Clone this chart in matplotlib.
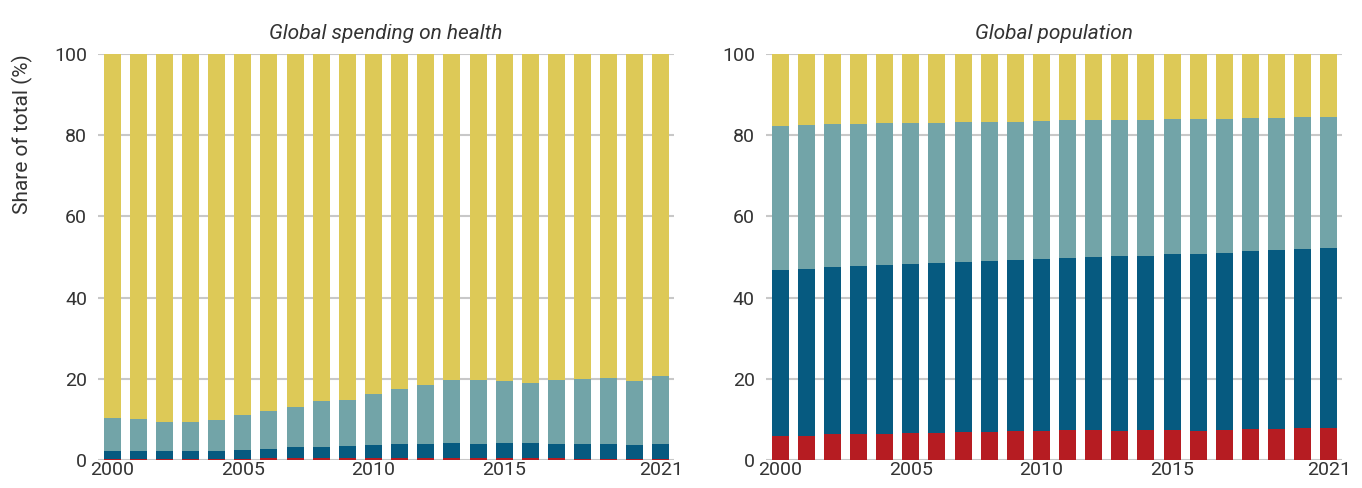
import numpy as np
import matplotlib
matplotlib.use("Agg")
import matplotlib.pyplot as plt

plt.rcParams['font.family'] = ['Roboto', 'DejaVu Sans']

years = list(range(2000, 2022))
tick_years = [2000, 2005, 2010, 2015, 2021]

# Global spending on health, share of total (%) per group
spend_red = [0.3, 0.3, 0.3, 0.3, 0.3, 0.3, 0.5, 0.5, 0.5, 0.5, 0.5,
             0.5, 0.5, 0.5, 0.5, 0.5, 0.5, 0.5, 0.3, 0.3, 0.3, 0.3]
spend_blue_top = [2.3, 2.3, 2.3, 2.3, 2.3, 2.5, 2.7, 3.2, 3.2, 3.4, 3.7,
                  3.9, 3.9, 4.2, 3.9, 4.2, 4.2, 3.9, 3.9, 3.9, 3.7, 3.9]
spend_teal_top = [10.3, 10.1, 9.4, 9.4, 9.9, 11.1, 12.1, 13.1, 14.5, 14.8, 16.3,
                  17.5, 18.5, 19.7, 19.7, 19.4, 19.0, 19.7, 19.9, 20.2, 19.4, 20.7]

# Global population, share of total (%) per group
pop_red = [6.0, 6.0, 6.5, 6.5, 6.5, 6.6, 6.6, 7.0, 7.0, 7.1, 7.1,
           7.5, 7.5, 7.1, 7.5, 7.5, 7.1, 7.5, 7.6, 7.6, 8.0, 8.0]
pop_blue_top = [46.8, 47.0, 47.5, 47.8, 48.0, 48.3, 48.5, 48.8, 49.0, 49.3, 49.5,
                49.8, 50.0, 50.2, 50.2, 50.7, 50.7, 51.0, 51.5, 51.7, 52.0, 52.2]
pop_teal_top = [82.3, 82.5, 82.8, 82.8, 83.0, 83.0, 83.0, 83.3, 83.3, 83.3, 83.5,
                83.7, 83.7, 83.7, 83.7, 84.0, 84.0, 84.0, 84.2, 84.2, 84.5, 84.5]

c_red = '#B61C22'
c_blue = '#065A80'
c_teal = '#72A4A8'
c_yellow = '#DDC957'
grid_c = '#C8C8C8'
text_c = '#333333'

fig = plt.figure(figsize=(13.62, 4.88), dpi=100)
ax1 = fig.add_axes([0.072, 0.0574, 0.4229, 0.832])
ax2 = fig.add_axes([0.5624, 0.0574, 0.4229, 0.832])


def draw(ax, red, blue_top, teal_top, title):
    x = np.arange(len(years))
    red = np.array(red)
    blue = np.array(blue_top) - red
    teal = np.array(teal_top) - np.array(blue_top)
    yellow = 100 - np.array(teal_top)
    w = 0.65
    ax.bar(x, red, w, color=c_red, zorder=3)
    ax.bar(x, blue, w, bottom=red, color=c_blue, zorder=3)
    ax.bar(x, teal, w, bottom=blue_top, color=c_teal, zorder=3)
    ax.bar(x, yellow, w, bottom=teal_top, color=c_yellow, zorder=3)
    ax.set_xlim(-0.54, 21.5)
    ax.set_ylim(0, 100)
    ax.set_yticks([0, 20, 40, 60, 80, 100])
    ax.set_xticks([years.index(y) for y in tick_years])
    ax.set_xticklabels([str(y) for y in tick_years])
    ax.grid(axis='y', color=grid_c, linewidth=1.5, zorder=0)
    for s in ax.spines.values():
        s.set_visible(False)
    ax.tick_params(length=0, labelsize=14, colors=text_c, pad=1)
    ax.tick_params(axis='y', pad=8)
    ax.set_title(title, fontstyle='italic', fontsize=15, color=text_c, pad=11)


draw(ax1, spend_red, spend_blue_top, spend_teal_top, 'Global spending on health')
draw(ax2, pop_red, pop_blue_top, pop_teal_top, 'Global population')
ax1.set_ylabel('Share of total (%)', fontsize=15, color=text_c, loc='top')
ax1.yaxis.set_label_coords(-0.113, 1.0)

fig.savefig('out.png', dpi=100)
